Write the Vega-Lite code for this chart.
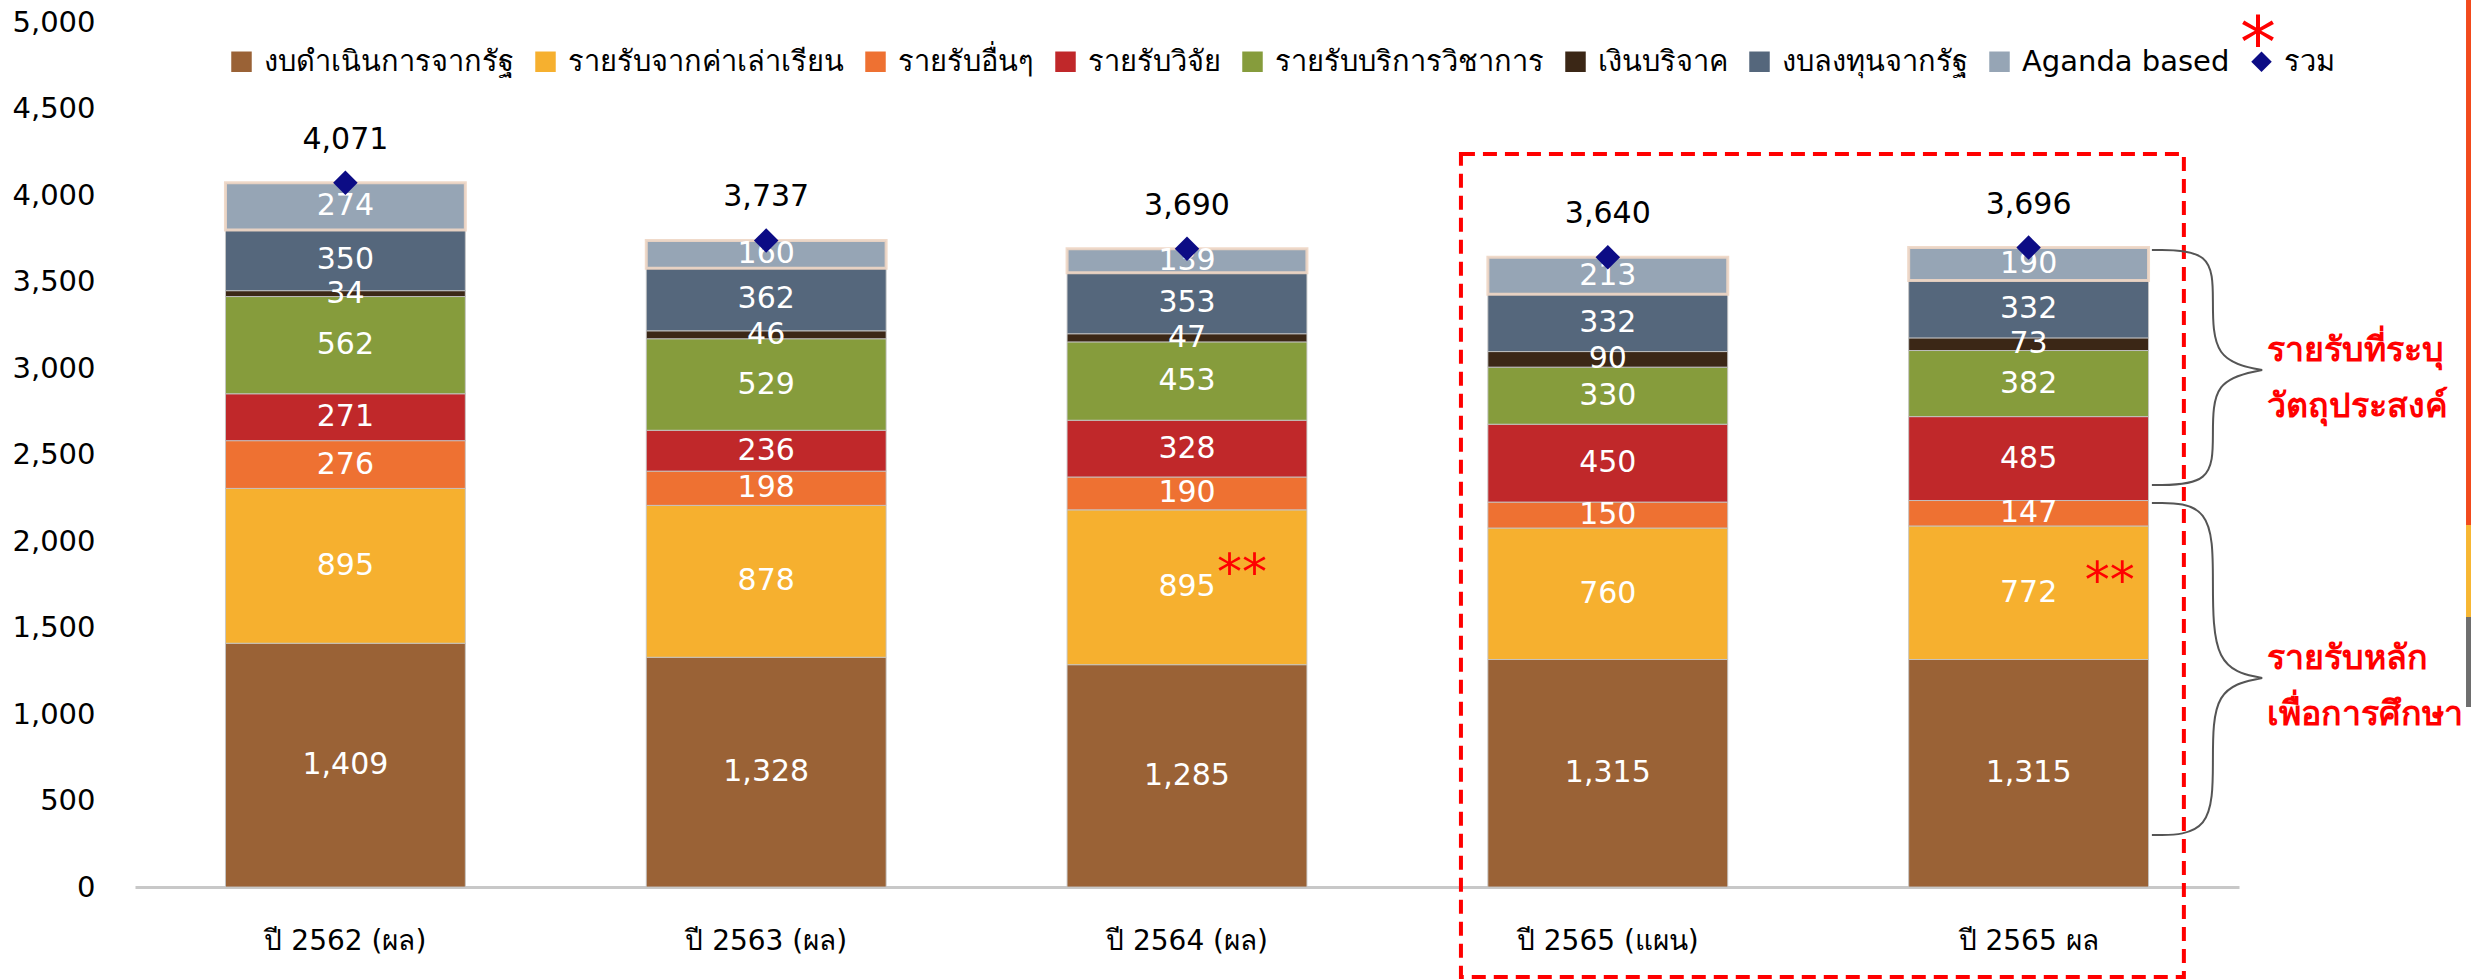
{
  "$schema": "https://vega.github.io/schema/vega-lite/v6.json",
  "width": 2104,
  "height": 865,
  "autosize": {"type": "none"},
  "padding": {"left": 135, "top": 22, "right": 232, "bottom": 93},
  "background": "#ffffff",
  "config": {"view": {"stroke": null}, "font": "DejaVu Sans", "legend": {"padding": 0}},
  "datasets": {
    "bars": [
      {"cat": "ปี 2562 (ผล)", "series": "งบดำเนินการจากรัฐ", "k": 1, "value": 1409},
      {"cat": "ปี 2562 (ผล)", "series": "รายรับจากค่าเล่าเรียน", "k": 2, "value": 895},
      {"cat": "ปี 2562 (ผล)", "series": "รายรับอื่นๆ", "k": 3, "value": 276},
      {"cat": "ปี 2562 (ผล)", "series": "รายรับวิจัย", "k": 4, "value": 271},
      {"cat": "ปี 2562 (ผล)", "series": "รายรับบริการวิชาการ", "k": 5, "value": 562},
      {"cat": "ปี 2562 (ผล)", "series": "เงินบริจาค", "k": 6, "value": 34},
      {"cat": "ปี 2562 (ผล)", "series": "งบลงทุนจากรัฐ", "k": 7, "value": 350},
      {"cat": "ปี 2562 (ผล)", "series": "Aganda based", "k": 8, "value": 274},
      {"cat": "ปี 2563 (ผล)", "series": "งบดำเนินการจากรัฐ", "k": 1, "value": 1328},
      {"cat": "ปี 2563 (ผล)", "series": "รายรับจากค่าเล่าเรียน", "k": 2, "value": 878},
      {"cat": "ปี 2563 (ผล)", "series": "รายรับอื่นๆ", "k": 3, "value": 198},
      {"cat": "ปี 2563 (ผล)", "series": "รายรับวิจัย", "k": 4, "value": 236},
      {"cat": "ปี 2563 (ผล)", "series": "รายรับบริการวิชาการ", "k": 5, "value": 529},
      {"cat": "ปี 2563 (ผล)", "series": "เงินบริจาค", "k": 6, "value": 46},
      {"cat": "ปี 2563 (ผล)", "series": "งบลงทุนจากรัฐ", "k": 7, "value": 362},
      {"cat": "ปี 2563 (ผล)", "series": "Aganda based", "k": 8, "value": 160},
      {"cat": "ปี 2564 (ผล)", "series": "งบดำเนินการจากรัฐ", "k": 1, "value": 1285},
      {"cat": "ปี 2564 (ผล)", "series": "รายรับจากค่าเล่าเรียน", "k": 2, "value": 895},
      {"cat": "ปี 2564 (ผล)", "series": "รายรับอื่นๆ", "k": 3, "value": 190},
      {"cat": "ปี 2564 (ผล)", "series": "รายรับวิจัย", "k": 4, "value": 328},
      {"cat": "ปี 2564 (ผล)", "series": "รายรับบริการวิชาการ", "k": 5, "value": 453},
      {"cat": "ปี 2564 (ผล)", "series": "เงินบริจาค", "k": 6, "value": 47},
      {"cat": "ปี 2564 (ผล)", "series": "งบลงทุนจากรัฐ", "k": 7, "value": 353},
      {"cat": "ปี 2564 (ผล)", "series": "Aganda based", "k": 8, "value": 139},
      {"cat": "ปี 2565 (แผน)", "series": "งบดำเนินการจากรัฐ", "k": 1, "value": 1315},
      {"cat": "ปี 2565 (แผน)", "series": "รายรับจากค่าเล่าเรียน", "k": 2, "value": 760},
      {"cat": "ปี 2565 (แผน)", "series": "รายรับอื่นๆ", "k": 3, "value": 150},
      {"cat": "ปี 2565 (แผน)", "series": "รายรับวิจัย", "k": 4, "value": 450},
      {"cat": "ปี 2565 (แผน)", "series": "รายรับบริการวิชาการ", "k": 5, "value": 330},
      {"cat": "ปี 2565 (แผน)", "series": "เงินบริจาค", "k": 6, "value": 90},
      {"cat": "ปี 2565 (แผน)", "series": "งบลงทุนจากรัฐ", "k": 7, "value": 332},
      {"cat": "ปี 2565 (แผน)", "series": "Aganda based", "k": 8, "value": 213},
      {"cat": "ปี 2565 ผล", "series": "งบดำเนินการจากรัฐ", "k": 1, "value": 1315},
      {"cat": "ปี 2565 ผล", "series": "รายรับจากค่าเล่าเรียน", "k": 2, "value": 772},
      {"cat": "ปี 2565 ผล", "series": "รายรับอื่นๆ", "k": 3, "value": 147},
      {"cat": "ปี 2565 ผล", "series": "รายรับวิจัย", "k": 4, "value": 485},
      {"cat": "ปี 2565 ผล", "series": "รายรับบริการวิชาการ", "k": 5, "value": 382},
      {"cat": "ปี 2565 ผล", "series": "เงินบริจาค", "k": 6, "value": 73},
      {"cat": "ปี 2565 ผล", "series": "งบลงทุนจากรัฐ", "k": 7, "value": 332},
      {"cat": "ปี 2565 ผล", "series": "Aganda based", "k": 8, "value": 190}
    ],
    "totals": [
      {"cat": "ปี 2562 (ผล)", "series": "รวม", "total": 4071},
      {"cat": "ปี 2563 (ผล)", "series": "รวม", "total": 3737},
      {"cat": "ปี 2564 (ผล)", "series": "รวม", "total": 3690},
      {"cat": "ปี 2565 (แผน)", "series": "รวม", "total": 3640},
      {"cat": "ปี 2565 ผล", "series": "รวม", "total": 3696}
    ],
    "frame": [
      {"x0": 3.151, "x1": 4.869, "y0": -520, "y1": 4237}
    ],
    "braces": [
      {"b": "top", "i": 1, "x": 4.793, "y": 3682},
      {"b": "top", "i": 2, "x": 4.938, "y": 3682},
      {"b": "top", "i": 3, "x": 4.938, "y": 3393},
      {"b": "top", "i": 4, "x": 4.938, "y": 3046},
      {"b": "top", "i": 5, "x": 5.055, "y": 2988},
      {"b": "top", "i": 6, "x": 5.055, "y": 2988},
      {"b": "top", "i": 7, "x": 5.055, "y": 2988},
      {"b": "top", "i": 8, "x": 4.938, "y": 2931},
      {"b": "top", "i": 9, "x": 4.938, "y": 2613},
      {"b": "top", "i": 10, "x": 4.938, "y": 2324},
      {"b": "top", "i": 11, "x": 4.793, "y": 2324},
      {"b": "low", "i": 1, "x": 4.793, "y": 2220},
      {"b": "low", "i": 2, "x": 4.938, "y": 2220},
      {"b": "low", "i": 3, "x": 4.938, "y": 1775},
      {"b": "low", "i": 4, "x": 4.938, "y": 1266},
      {"b": "low", "i": 5, "x": 5.055, "y": 1208},
      {"b": "low", "i": 6, "x": 5.055, "y": 1208},
      {"b": "low", "i": 7, "x": 5.055, "y": 1208},
      {"b": "low", "i": 8, "x": 4.938, "y": 1150},
      {"b": "low", "i": 9, "x": 4.938, "y": 734},
      {"b": "low", "i": 10, "x": 4.938, "y": 301},
      {"b": "low", "i": 11, "x": 4.793, "y": 301}
    ],
    "notes": [
      {"x": 5.067, "y": 3098, "t": "รายรับที่ระบุ"},
      {"x": 5.067, "y": 2775, "t": "วัตถุประสงค์"},
      {"x": 5.067, "y": 1318, "t": "รายรับหลัก"},
      {"x": 5.067, "y": 994, "t": "เพื่อการศึกษา"}
    ],
    "stars": [
      {"x": 2.631, "y": 1880, "t": "**"},
      {"x": 4.693, "y": 1830, "t": "**"}
    ],
    "legendstar": [
      {"x": 5.045, "y": 4965, "t": "*"}
    ],
    "strip": [
      {"x0": 5.5395, "x1": 5.56, "y0": 2092, "y1": 5127, "part": "a"},
      {"x0": 5.5395, "x1": 5.56, "y0": 1561, "y1": 2092, "part": "b"},
      {"x0": 5.5395, "x1": 5.56, "y0": 1040, "y1": 1561, "part": "c"}
    ]
  },
  "layer": [
    {
      "layer": [
        {
          "data": {"name": "bars"},
          "mark": {"type": "bar", "strokeOpacity": 0.9},
          "encoding": {
            "x": {
              "field": "cat", "type": "nominal", "sort": null,
              "scale": {"paddingInner": 0.43, "paddingOuter": 0.215},
              "axis": {"title": null, "domain": true, "domainColor": "#c8c8c8", "domainWidth": 3, "ticks": false, "labelAngle": 0, "labelFontSize": 28, "labelColor": "#000000", "labelPadding": 40, "labelLimit": 400, "labelFont": "DejaVu Sans"}
            },
            "y": {
              "field": "value", "type": "quantitative", "stack": "zero",
              "scale": {"domain": [0, 5000], "nice": false},
              "axis": {"title": null, "values": [0, 500, 1000, 1500, 2000, 2500, 3000, 3500, 4000, 4500, 5000], "format": ",.0f", "domain": false, "ticks": false, "grid": false, "labelFontSize": 29, "labelColor": "#000000", "labelPadding": 40, "labelFont": "DejaVu Sans"}
            },
            "color": {
              "field": "series", "type": "nominal",
              "scale": {
                "domain": ["งบดำเนินการจากรัฐ", "รายรับจากค่าเล่าเรียน", "รายรับอื่นๆ", "รายรับวิจัย", "รายรับบริการวิชาการ", "เงินบริจาค", "งบลงทุนจากรัฐ", "Aganda based", "รวม"],
                "range": ["#9a6236", "#f6b02f", "#ee7132", "#c0282a", "#869c3c", "#3b2716", "#55677c", "#96a5b5", "#0c0c85"]
              },
              "legend": {
                "orient": "none", "legendX": 92, "legendY": 25, "direction": "horizontal", "columns": 9,
                "title": null, "labelFontSize": 29, "labelColor": "#000000", "labelFont": "DejaVu Sans",
                "symbolType": "square", "symbolSize": 420, "symbolStrokeWidth": 0,
                "labelOffset": 8, "columnPadding": 17, "labelLimit": 400
              }
            },
            "order": {"field": "k", "type": "quantitative"},
            "stroke": {"condition": {"test": "datum.series === 'Aganda based'", "value": "#eed6c4"}, "value": "#c4c4c4"},
            "strokeWidth": {"condition": {"test": "datum.series === 'Aganda based'", "value": 3}, "value": 1}
          }
        },
        {
          "data": {"name": "bars"},
          "mark": {"type": "text", "color": "#ffffff", "fontSize": 30, "baseline": "middle", "align": "center", "font": "DejaVu Sans"},
          "encoding": {
            "x": {"field": "cat", "type": "nominal", "sort": null},
            "y": {"field": "value", "type": "quantitative", "stack": "zero", "bandPosition": 0.5},
            "order": {"field": "k", "type": "quantitative"},
            "text": {"field": "value", "type": "quantitative", "format": ","}
          }
        },
        {
          "data": {"name": "totals"},
          "mark": {"type": "point", "filled": true, "size": 600, "opacity": 1},
          "encoding": {
            "x": {"field": "cat", "type": "nominal", "sort": null},
            "y": {"field": "total", "type": "quantitative"},
            "color": {"field": "series", "type": "nominal"},
            "shape": {
              "field": "series", "type": "nominal",
              "scale": {
                "domain": ["งบดำเนินการจากรัฐ", "รายรับจากค่าเล่าเรียน", "รายรับอื่นๆ", "รายรับวิจัย", "รายรับบริการวิชาการ", "เงินบริจาค", "งบลงทุนจากรัฐ", "Aganda based", "รวม"],
                "range": ["square", "square", "square", "square", "square", "square", "square", "square", "diamond"]
              },
              "legend": {
                "orient": "none", "legendX": 92, "legendY": 25, "direction": "horizontal", "columns": 9,
                "title": null, "labelFontSize": 29, "labelColor": "#000000", "labelFont": "DejaVu Sans",
                "symbolType": "square", "symbolSize": 420, "symbolStrokeWidth": 0,
                "labelOffset": 8, "columnPadding": 17, "labelLimit": 400
              }
            }
          }
        },
        {
          "data": {"name": "totals"},
          "mark": {"type": "text", "color": "#000000", "fontSize": 30, "baseline": "middle", "align": "center", "dy": -43, "font": "DejaVu Sans"},
          "encoding": {
            "x": {"field": "cat", "type": "nominal", "sort": null},
            "y": {"field": "total", "type": "quantitative"},
            "text": {"field": "total", "type": "quantitative", "format": ","}
          }
        }
      ]
    },
    {
      "layer": [
        {
          "data": {"name": "frame"},
          "mark": {"type": "rect", "fill": "transparent", "stroke": "#ff0000", "strokeWidth": 4, "strokeDash": [14, 8]},
          "encoding": {
            "x": {"field": "x0", "type": "quantitative", "scale": {"domain": [0, 5], "nice": false, "zero": false}, "axis": null},
            "x2": {"field": "x1"},
            "y": {"field": "y0", "type": "quantitative", "scale": {"domain": [0, 5000], "nice": false}},
            "y2": {"field": "y1"}
          }
        },
        {
          "data": {"name": "braces"},
          "mark": {"type": "line", "interpolate": "basis", "color": "#555555", "strokeWidth": 2},
          "encoding": {
            "x": {"field": "x", "type": "quantitative", "scale": {"domain": [0, 5], "nice": false, "zero": false}, "axis": null},
            "y": {"field": "y", "type": "quantitative", "scale": {"domain": [0, 5000], "nice": false}},
            "detail": {"field": "b"},
            "order": {"field": "i", "type": "quantitative"}
          }
        },
        {
          "data": {"name": "notes"},
          "mark": {"type": "text", "color": "#ff0000", "fontSize": 34, "fontWeight": "bold", "align": "left", "baseline": "middle", "font": "DejaVu Sans"},
          "encoding": {
            "x": {"field": "x", "type": "quantitative", "scale": {"domain": [0, 5], "nice": false, "zero": false}, "axis": null},
            "y": {"field": "y", "type": "quantitative", "scale": {"domain": [0, 5000], "nice": false}},
            "text": {"field": "t"}
          }
        },
        {
          "data": {"name": "stars"},
          "mark": {"type": "text", "color": "#ff0000", "fontSize": 50, "align": "center", "baseline": "middle", "dy": 12, "font": "DejaVu Sans"},
          "encoding": {
            "x": {"field": "x", "type": "quantitative", "scale": {"domain": [0, 5], "nice": false, "zero": false}, "axis": null},
            "y": {"field": "y", "type": "quantitative", "scale": {"domain": [0, 5000], "nice": false}},
            "text": {"field": "t"}
          }
        },
        {
          "data": {"name": "legendstar"},
          "mark": {"type": "text", "color": "#ff0000", "fontSize": 72, "align": "center", "baseline": "middle", "dy": 17, "font": "DejaVu Sans"},
          "encoding": {
            "x": {"field": "x", "type": "quantitative", "scale": {"domain": [0, 5], "nice": false, "zero": false}, "axis": null},
            "y": {"field": "y", "type": "quantitative", "scale": {"domain": [0, 5000], "nice": false}},
            "text": {"field": "t"}
          }
        },
        {
          "data": {"name": "strip"},
          "mark": {"type": "rect"},
          "encoding": {
            "x": {"field": "x0", "type": "quantitative", "scale": {"domain": [0, 5], "nice": false, "zero": false}, "axis": null},
            "x2": {"field": "x1"},
            "y": {"field": "y0", "type": "quantitative", "scale": {"domain": [0, 5000], "nice": false}},
            "y2": {"field": "y1"},
            "fill": {"field": "part", "type": "nominal", "scale": {"domain": ["a", "b", "c"], "range": ["#f24a1c", "#f7b733", "#6e6e6e"]}, "legend": null}
          }
        }
      ]
    }
  ],
  "resolve": {"scale": {"x": "independent"}, "axis": {"x": "independent"}}
}
